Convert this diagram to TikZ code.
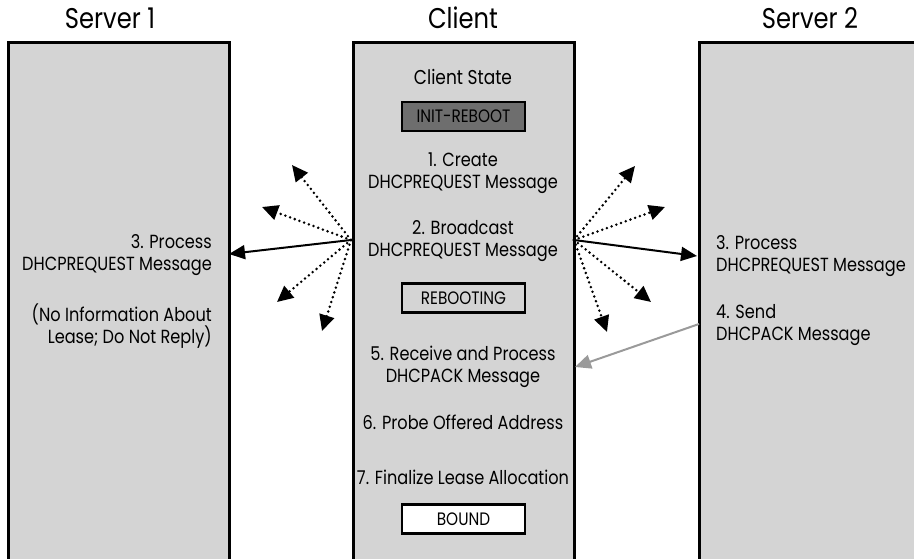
\documentclass[tikz,border=0pt]{standalone}
\usepackage{fontspec}
\setmainfont[FakeStretch=0.85]{Poppins}
\usetikzlibrary{arrows.meta}
\definecolor{panel}{HTML}{D4D4D4}
\definecolor{darkstate}{HTML}{6E6E6E}
\definecolor{ackgray}{HTML}{9A9A9A}
\begin{document}
\begin{tikzpicture}[x=1pt,y=-1pt,
  panelbox/.style={draw=black, line width=3pt, fill=panel, inner sep=0pt, anchor=north west},
  title/.style={font=\fontsize{28.5}{32}\selectfont},
  txt/.style={font=\fontsize{19}{21.5}\selectfont, inner sep=0pt},
  statebox/.style={draw=black, line width=2.5pt, minimum width=123pt, minimum height=29pt, inner sep=0pt, font=\fontsize{18}{20}\selectfont},
  msg/.style={line width=2pt, -{Triangle[length=16pt,width=14pt]}},
  bcast/.style={line width=2.8pt, dash pattern=on 0pt off 5pt, line cap=round, -{Triangle[length=16pt,width=15pt]}},
]
\useasboundingbox (0,0) rectangle (914,559);
\clip (0,0) rectangle (914,559);
% panels
\node[panelbox, minimum width=221pt, minimum height=540pt] (s1) at (7,41) {};
\node[panelbox, minimum width=221pt, minimum height=540pt] (cl) at (352,41) {};
\node[panelbox, minimum width=240pt, minimum height=540pt] (s2) at (698,41) {};
% titles
\node[title] (t1) at (110,18) {Server 1};
\node[title] (t2) at (463,18) {Client};
\node[title] (t3) at (810,18) {Server 2};
% client column
\node[txt, font=\fontsize{20}{22}\selectfont] (cs) at (463,77) {Client State};
\node[statebox, fill=darkstate] (ir) at (463.5,116.5) {INIT-REBOOT};
\node[txt, align=center] (c1) at (463,173) {1. Create\\DHCPREQUEST Message};
\node[txt, align=center] (c2) at (463,241) {2. Broadcast\\DHCPREQUEST Message};
\node[statebox, fill=panel] (rb) at (463.5,298) {REBOOTING};
\node[txt, align=center] (c5) at (463,367) {5. Receive and Process\\DHCPACK Message};
\node[txt] (c6) at (463,422) {6. Probe Offered Address};
\node[txt] (c7) at (463,477) {7. Finalize Lease Allocation};
\node[statebox, fill=white] (bd) at (463.5,519) {BOUND};
% server 1
\node[txt, align=right, anchor=east] (p1) at (212,255) {3. Process\\DHCPREQUEST Message};
\node[txt, align=right, anchor=east] (n1) at (212,326) {(No Information About\\Lease; Do Not Reply)};
% server 2
\node[txt, align=left, anchor=west] (p2) at (716,256) {3. Process\\DHCPREQUEST Message};
\node[txt, align=left, anchor=west] (a2) at (716,325) {4. Send\\DHCPACK Message};
% arrows
\coordinate (lo) at (351,240);
\coordinate (ro) at (574,240);
\coordinate (s1hit) at (229,254);
\coordinate (s2hit) at (697,256);
\coordinate (l1) at (292,165);
\coordinate (l2) at (262,207);
\coordinate (l3) at (277,302);
\coordinate (l4) at (322,331);
\coordinate (r1) at (635,166);
\coordinate (r2) at (665,207);
\coordinate (r3) at (651,302);
\coordinate (r4) at (607,332);
\coordinate (ackstart) at (699,324);
\coordinate (ackend) at (575,367);
\foreach \t in {l1,l2,l3,l4} \draw[bcast] (lo) -- (\t);
\foreach \t in {r1,r2,r3,r4} \draw[bcast] (ro) -- (\t);
\draw[msg] (lo) -- (s1hit);
\draw[msg] (ro) -- (s2hit);
\draw[msg, color=ackgray] (ackstart) -- (ackend);
\end{tikzpicture}
\end{document}
